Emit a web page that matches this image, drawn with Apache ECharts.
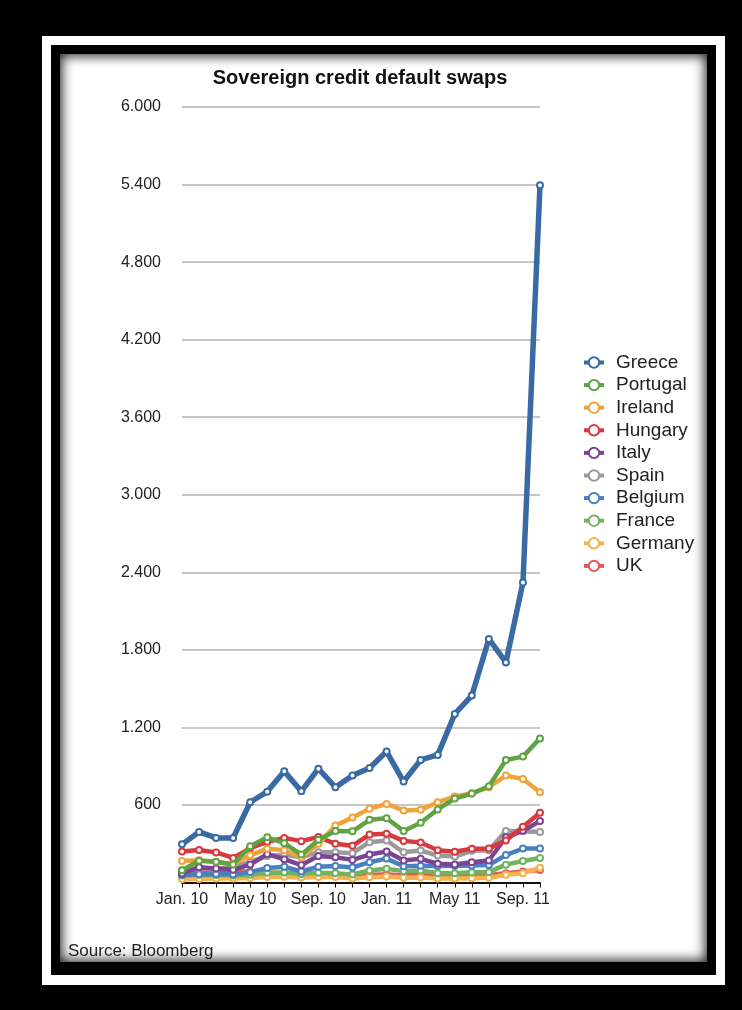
<!DOCTYPE html>
<html>
<head>
<meta charset="utf-8">
<script src="https://cdn.jsdelivr.net/npm/echarts@6/dist/echarts.min.js"></script>
<style>
html,body{margin:0;padding:0;background:#000;width:742px;height:1010px;overflow:hidden;}
#f1{position:absolute;left:42px;top:36px;width:683px;height:949px;background:#fff;}
#f2{position:absolute;left:51px;top:45px;width:665px;height:930px;background:#000;}
#f3{position:absolute;left:60px;top:54px;width:647px;height:908px;background:#fff;box-shadow:inset 0 0 12px 2px rgba(0,0,0,0.85);}
#chart{position:absolute;left:0;top:0;width:742px;height:1010px;}
</style>
</head>
<body>
<div id="f1"></div><div id="f2"></div><div id="f3"></div>
<div id="chart"></div>
<script>
const categories = ['Jan. 10','Feb. 10','Mar. 10','Apr. 10','May 10','Jun. 10','Jul. 10','Aug. 10','Sep. 10','Oct. 10','Nov. 10','Dec. 10',
  'Jan. 11','Feb. 11','Mar. 11','Apr. 11','May 11','Jun. 11','Jul. 11','Aug. 11','Sep. 11','Oct. 11'];
const yTicks = [0,600,1200,1800,2400,3000,3600,4200,4800,5400,6000];

const greece   = [295, 391, 345, 345, 621, 703, 860, 706, 881, 737, 827, 886, 1013, 781, 948, 987, 1304, 1446, 1884, 1703, 2321, 5395];
const portugal = [95, 168, 160, 139, 281, 350, 304, 216, 330, 399, 396, 485, 497, 399, 462, 565, 649, 688, 745, 948, 974, 1115];
const ireland  = [166, 172, 158, 142, 210, 262, 250, 193, 299, 441, 502, 570, 608, 557, 562, 621, 665, 690, 737, 827, 801, 698];
const hungary  = [240, 252, 233, 190, 265, 315, 345, 320, 352, 299, 285, 371, 378, 322, 310, 250, 238, 262, 264, 325, 431, 540];
const italy    = [70, 118, 108, 98, 139, 220, 180, 135, 205, 196, 175, 216, 240, 170, 183, 145, 139, 157, 170, 350, 400, 475];
const spain    = [95, 112, 105, 118, 160, 205, 215, 195, 235, 235, 227, 312, 325, 234, 247, 209, 201, 245, 250, 398, 396, 390];
const belgium  = [58, 63, 65, 62, 80, 112, 122, 85, 122, 128, 116, 157, 185, 126, 130, 128, 130, 132, 135, 212, 263, 263];
const france   = [55, 60, 58, 55, 60, 75, 78, 65, 75, 72, 62, 93, 106, 88, 93, 72, 72, 80, 80, 138, 166, 190];
const germany  = [25, 28, 30, 30, 35, 42, 45, 38, 42, 42, 30, 41, 46, 36, 38, 30, 30, 33, 36, 60, 72, 114];
const uk       = [78, 80, 82, 85, 85, 78, 72, 62, 66, 60, 55, 60, 62, 56, 56, 50, 50, 55, 58, 72, 85, 97];

const seriesNames = ['Greece','Portugal','Ireland','Hungary','Italy','Spain','Belgium','France','Germany','UK'];
const seriesData  = [greece, portugal, ireland, hungary, italy, spain, belgium, france, germany, uk];
const colors = ['#396aa3','#5fa343','#f1a33b','#d8383f','#7b4595','#9a9a9a','#4a80c0','#72b35f','#f5b24f','#df5a5a'];

const FONT = '"Liberation Sans", Arial, Helvetica, sans-serif';
const chart = echarts.init(document.getElementById('chart'), null, {renderer:'canvas'});
chart.setOption({
  backgroundColor: 'transparent',
  animation: false,
  color: colors,
  grid: {left: 182, right: 202, top: 107, bottom: 127.5, containLabel: false},
  legend: {
    orient: 'vertical', left: 577, top: 348,
    itemWidth: 20, itemHeight: 13, itemGap: 3.6,
    lineStyle: {width: 4},
    itemStyle: {borderWidth: 2.5},
    textStyle: {fontFamily: FONT, fontSize: 19, color: '#222', padding: [0,0,0,7]},
    data: seriesNames
  },
  xAxis: {
    type: 'category', data: categories, boundaryGap: false,
    axisLine: {lineStyle: {color: '#111', width: 2}},
    axisTick: {show: true, interval: 0, length: 5, lineStyle: {color: '#111', width: 1}},
    axisLabel: {interval: 3, margin: 9, fontFamily: FONT, fontSize: 16, color: '#222'},
    splitLine: {show: false}
  },
  yAxis: {
    type: 'value', min: yTicks[0], max: yTicks[yTicks.length-1], interval: 600,
    axisLine: {show: false}, axisTick: {show: false},
    axisLabel: {margin: 21, fontFamily: FONT, fontSize: 16, color: '#222',
      formatter: v => v === 0 ? '' : String(v).replace(/\B(?=(\d{3})+(?!\d))/g, '.')},
    splitLine: {lineStyle: {color: '#b3b3b3', width: 1.5}}
  },
  graphic: [
    {type: 'text', x: 360, y: 78, z: 100,
      style: {text: 'Sovereign credit default swaps', font: 'bold 20px ' + FONT, fill: '#111',
        align: 'center', verticalAlign: 'middle', textAlign: 'center', textVerticalAlign: 'middle'}},
    {type: 'text', x: 68, y: 951, z: 100,
      style: {text: 'Source: Bloomberg', font: '17px ' + FONT, fill: '#222',
        align: 'left', verticalAlign: 'middle', textAlign: 'left', textVerticalAlign: 'middle'}}
  ],
  series: seriesNames.map((n, i) => ({
    name: n, type: 'line', data: seriesData[i],
    z: 30 - i,
    symbol: 'emptyCircle', symbolSize: 6, showSymbol: true,
    lineStyle: {width: i === 0 ? 5.5 : 4.5, color: colors[i]},
    itemStyle: {color: colors[i], borderWidth: 2, borderColor: colors[i]},
    emphasis: {disabled: true}
  }))
});
</script>
</body>
</html>
